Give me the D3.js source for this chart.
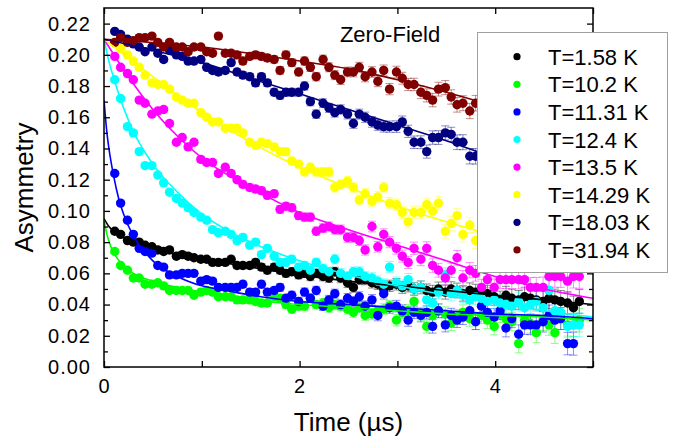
<!DOCTYPE html>
<html><head><meta charset="utf-8">
<script src="https://cdn.jsdelivr.net/npm/d3@7"></script>
<style>
body{margin:0;background:#fff}
text{font-family:"Liberation Sans",Arial,sans-serif;fill:#000}
</style>
</head><body>
<svg id="chart" width="674" height="438"></svg>
<script>
// ---------------- data ----------------
const times=[0.11,0.17,0.24,0.30,0.36,0.42,0.49,0.55,0.61,0.67,
0.74,0.80,0.86,0.92,0.99,1.05,1.11,1.17,1.24,1.30,
1.36,1.42,1.49,1.55,1.61,1.67,1.74,1.80,1.86,1.92,
1.99,2.05,2.11,2.17,2.24,2.30,2.36,2.42,2.49,2.55,
2.61,2.67,2.74,2.80,2.86,2.92,2.99,3.05,3.11,3.17,
3.24,3.30,3.36,3.42,3.49,3.55,3.61,3.67,3.74,3.80,
3.86,3.92,3.99,4.05,4.11,4.17,4.24,4.30,4.36,4.42,
4.49,4.55,4.61,4.67,4.74,4.80,4.86];

const errors=[0.0013,0.0013,0.0013,0.0013,0.0014,0.0014,0.0015,0.0015,0.0015,0.0016,
0.0016,0.0016,0.0017,0.0017,0.0018,0.0018,0.0018,0.0019,0.0019,0.0020,
0.0020,0.0021,0.0021,0.0022,0.0022,0.0023,0.0023,0.0024,0.0024,0.0025,
0.0025,0.0026,0.0027,0.0027,0.0028,0.0029,0.0029,0.0030,0.0031,0.0031,
0.0032,0.0033,0.0034,0.0034,0.0035,0.0036,0.0037,0.0038,0.0039,0.0040,
0.0041,0.0042,0.0043,0.0044,0.0045,0.0046,0.0047,0.0048,0.0049,0.0050,
0.0052,0.0053,0.0054,0.0056,0.0057,0.0058,0.0060,0.0061,0.0063,0.0064,
0.0066,0.0067,0.0069,0.0070,0.0072,0.0074,0.0076];

const a158=[0.087,0.085,0.081,0.080,0.080,0.078,0.077,0.075,0.074,0.075,
0.071,0.072,0.071,0.070,0.069,0.069,0.067,0.067,0.067,0.069,
0.065,0.065,0.065,0.067,0.064,0.062,0.064,0.062,0.060,0.061,
0.059,0.060,0.058,0.060,0.058,0.057,0.061,0.057,0.054,0.051,
0.056,0.056,0.054,0.053,0.050,0.052,0.053,0.051,0.052,0.050,
0.051,0.049,0.048,0.050,0.048,0.050,0.049,0.047,0.049,0.048,
0.046,0.047,0.045,0.043,0.046,0.044,0.043,0.045,0.044,0.043,
0.042,0.044,0.043,0.042,0.041,0.038,0.042];

const a102=[0.074,0.065,0.062,0.057,0.057,0.053,0.053,0.054,0.052,0.049,
0.049,0.049,0.049,0.046,0.048,0.049,0.048,0.045,0.045,0.045,
0.043,0.043,0.043,0.042,0.041,0.041,0.045,0.044,0.040,0.037,
0.039,0.039,0.044,0.040,0.041,0.038,0.040,0.039,0.037,0.035,
0.038,0.033,0.034,0.036,0.037,0.039,0.030,0.035,0.036,0.042,
0.034,0.026,0.033,0.036,0.034,0.028,0.032,0.035,0.031,0.029,
0.033,0.030,0.026,0.034,0.031,0.029,0.015,0.030,0.028,0.022,
0.030,0.027,0.022,0.031,0.027,0.027,0.030];

const a1131=[0.124,0.105,0.094,0.085,0.076,0.074,0.073,0.065,0.064,0.059,
0.059,0.060,0.060,0.060,0.055,0.056,0.055,0.051,0.051,0.051,
0.051,0.053,0.048,0.048,0.053,0.048,0.049,0.051,0.044,0.046,
0.042,0.048,0.044,0.049,0.039,0.043,0.047,0.040,0.044,0.042,
0.045,0.039,0.043,0.033,0.047,0.038,0.039,0.036,0.030,0.035,
0.033,0.035,0.026,0.036,0.027,0.033,0.030,0.032,0.036,0.029,
0.039,0.035,0.032,0.036,0.025,0.031,0.021,0.027,0.027,0.027,
0.029,0.033,0.030,0.031,0.015,0.015,null];

const a124=[0.184,0.172,0.154,0.150,0.138,0.129,0.129,0.123,0.118,0.112,
0.108,0.105,0.102,0.099,0.096,0.094,0.088,0.086,0.087,0.085,
0.081,0.083,0.078,0.080,0.072,0.076,0.071,0.067,0.067,0.069,
0.064,0.065,0.062,0.067,0.063,0.061,0.069,0.060,0.058,0.061,
0.061,0.058,0.057,0.055,0.053,0.064,0.054,0.052,0.056,0.050,
0.051,0.043,0.041,0.048,0.059,0.047,0.049,0.046,0.043,0.045,
0.044,0.042,0.043,0.041,0.040,0.039,0.042,0.038,0.040,0.042,
0.038,0.049,0.036,0.035,0.026,0.027,0.027];

const a135=[0.199,0.192,0.188,0.184,0.171,0.169,0.162,0.164,0.165,0.156,
0.144,0.147,0.141,0.144,0.133,0.131,0.131,0.124,0.128,0.124,
0.120,0.117,0.115,0.114,0.113,0.110,0.111,0.101,0.103,0.102,
0.097,0.096,0.096,0.087,0.089,0.090,0.088,0.088,0.083,0.083,
0.081,0.075,0.090,0.077,0.085,0.080,0.076,0.071,0.067,0.076,
0.069,0.076,0.065,0.062,0.057,0.062,0.070,0.057,0.062,0.060,
0.051,0.056,0.051,0.056,0.056,0.056,0.056,0.056,0.051,0.051,
0.051,0.058,0.058,0.058,0.055,0.058,0.058];

const a1429=[0.208,0.204,0.200,0.196,0.192,0.187,0.182,0.181,0.181,0.178,
0.173,0.171,0.169,0.169,0.163,0.160,0.157,0.157,0.153,0.153,
0.153,0.150,0.144,0.142,0.144,0.143,0.141,0.138,0.138,0.132,
0.130,0.125,0.128,0.125,0.125,0.125,0.115,0.117,0.119,0.115,
0.107,0.111,0.106,0.109,0.115,0.105,0.104,0.099,0.093,0.099,
0.099,0.104,0.100,0.105,0.087,0.092,0.097,0.085,0.091,0.081,
0.083,0.080,0.084,0.079,0.081,0.077,0.080,0.076,0.078,0.074,
0.077,0.073,0.075,0.072,0.074,0.071,0.072];

const a1803=[0.215,0.213,0.210,0.207,0.205,0.202,0.205,0.201,0.197,0.203,
0.200,0.199,0.196,0.196,0.197,0.192,0.190,0.189,0.190,0.195,
0.189,0.187,0.186,0.182,0.186,0.182,0.176,0.174,0.176,0.176,
0.176,0.180,0.170,0.162,0.169,0.166,0.163,0.165,0.162,0.156,
0.162,0.160,0.157,0.155,0.154,0.154,0.154,0.157,0.151,0.144,
0.144,0.138,0.147,0.147,0.150,0.149,0.144,0.144,0.135,0.135,
0.133,0.130,0.128,0.131,0.126,0.127,0.124,0.122,0.124,0.121,
0.119,0.121,0.117,0.118,0.115,0.116,0.113];

const a3194=[0.208,0.211,0.208,0.209,0.211,0.211,0.212,0.208,0.205,0.208,
0.205,0.205,0.202,0.205,0.205,0.202,0.201,0.212,0.201,0.201,
0.200,0.196,0.199,0.200,0.199,0.198,0.197,0.190,0.200,0.195,
0.189,0.196,0.192,0.186,0.197,0.192,0.187,0.184,0.189,0.189,
0.192,0.186,0.189,0.183,0.190,0.178,0.189,0.185,0.181,0.181,
0.176,0.174,0.171,0.178,0.179,0.173,0.168,0.169,0.164,0.169,
0.166,0.164,0.165,0.161,0.162,0.160,0.158,0.159,0.156,0.157,
0.154,0.155,0.152,0.153,0.150,0.151,0.149];

// fitted curves: [time, asymmetry]
const fit158=[[0,0.095],[0.05,0.090],[0.1,0.087],[0.2,0.083],[0.35,0.079],[0.5,0.076],[0.75,0.072],[1,0.069],[1.5,0.064],[2,0.059],[2.5,0.055],[3,0.052],[3.5,0.049],[4,0.046],[4.5,0.043],[5,0.040]];
const fit102=[[0,0.094],[0.03,0.085],[0.07,0.077],[0.12,0.071],[0.2,0.065],[0.3,0.060],[0.5,0.055],[0.75,0.051],[1,0.048],[1.5,0.043],[2,0.040],[2.5,0.038],[3,0.036],[3.5,0.034],[4,0.033],[4.5,0.032],[5,0.030]];
const fit1131=[[0,0.171],[0.03,0.150],[0.06,0.136],[0.1,0.122],[0.15,0.108],[0.2,0.098],[0.3,0.084],[0.4,0.075],[0.5,0.068],[0.75,0.058],[1,0.052],[1.25,0.049],[1.5,0.046],[2,0.042],[2.5,0.040],[3,0.038],[3.5,0.036],[4,0.034],[4.5,0.033],[5,0.031]];
const fit124=[[0,0.21],[0.05,0.196],[0.1,0.185],[0.2,0.166],[0.3,0.151],[0.5,0.130],[0.75,0.112],[1,0.098],[1.25,0.088],[1.5,0.080],[2,0.068],[2.5,0.059],[3,0.052],[3.5,0.046],[4,0.041],[4.5,0.036],[5,0.032]];
const fit135=[[0,0.21],[0.25,0.186],[0.5,0.165],[0.75,0.148],[1,0.134],[1.5,0.115],[2,0.099],[2.5,0.088],[3,0.078],[3.5,0.068],[4,0.058],[4.5,0.050],[5,0.044]];
const fit1429=[[0,0.21],[0.5,0.186],[1,0.163],[1.5,0.144],[2,0.128],[2.5,0.115],[3,0.103],[3.5,0.093],[4,0.084],[4.5,0.076],[5,0.069]];
const fit1803=[[0,0.21],[0.5,0.203],[1,0.195],[1.5,0.185],[2,0.175],[2.5,0.165],[3,0.155],[3.5,0.145],[4,0.134],[4.5,0.124],[5,0.114]];
const fit3194=[[0,0.21],[1,0.205],[2,0.196],[2.5,0.191],[3,0.184],[3.5,0.176],[4,0.167],[4.5,0.158],[5,0.149]];

const labels=["T=1.58 K","T=10.2 K","T=11.31 K","T=12.4 K","T=13.5 K","T=14.29 K","T=18.03 K","T=31.94 K"];
const colors=["#000000","#00ff00","#0000ff","#00ffff","#ff00ff","#ffff00","#000080","#800000"];
const seriesValues=[a158,a102,a1131,a124,a135,a1429,a1803,a3194];
const fits=[fit158,fit102,fit1131,fit124,fit135,fit1429,fit1803,fit3194];

const xTickValues=[0,1,2,3,4,5];
const xTickLabels=["0","","2","","4",""];
const yMajorTicks=[0,0.02,0.04,0.06,0.08,0.10,0.12,0.14,0.16,0.18,0.20,0.22];
const yMinorTicks=[0.01,0.03,0.05,0.07,0.09,0.11,0.13,0.15,0.17,0.19,0.21];

// ---------------- layout ----------------
const svg=d3.select("#chart");
const L=104,R=593,T=8,B=367;
const x=d3.scaleLinear().domain([0,5]).range([L,R]);
const y=d3.scaleLinear().domain([0,0.23]).range([B,T]);

svg.append("clipPath").attr("id","clip").append("rect")
  .attr("x",L).attr("y",T).attr("width",R-L).attr("height",B-T);

const plot=svg.append("g").attr("clip-path","url(#clip)");

const series=labels.map((lab,i)=>({
  label:lab,color:colors[i],fit:fits[i],
  pts:times.map((t,j)=>({t:t,v:seriesValues[i][j],e:errors[j]})).filter(d=>d.v!=null)
}));

// error bars
series.forEach(s=>{
  const g=plot.append("g").attr("stroke",s.color).attr("stroke-opacity",0.45).attr("stroke-width",1).attr("fill","none");
  s.pts.forEach(d=>{
    const cx=x(d.t),y1=y(d.v+d.e),y2=y(d.v-d.e);
    g.append("line").attr("x1",cx).attr("x2",cx).attr("y1",y1).attr("y2",y2);
    g.append("line").attr("x1",cx-4).attr("x2",cx+4).attr("y1",y1).attr("y2",y1);
    g.append("line").attr("x1",cx-4).attr("x2",cx+4).attr("y1",y2).attr("y2",y2);
  });
});
// points
series.forEach(s=>{
  plot.append("g").selectAll("circle").data(s.pts).join("circle")
    .attr("cx",d=>x(d.t)).attr("cy",d=>y(d.v)).attr("r",4.7).attr("fill",s.color);
});
// fit lines
const line=d3.line().x(d=>x(d[0])).y(d=>y(d[1])).curve(d3.curveMonotoneX);
series.forEach(s=>{
  plot.append("path").attr("d",line(s.fit)).attr("fill","none").attr("stroke",s.color).attr("stroke-width",1.6);
});

// ---------------- axes ----------------
const ax=svg.append("g");
ax.append("g").attr("transform",`translate(0,${B})`)
  .call(d3.axisBottom(x).tickValues(xTickValues).tickSize(-6).tickPadding(12).tickFormat((d,i)=>xTickLabels[i]));
ax.append("g").attr("transform",`translate(0,${T})`)
  .call(d3.axisTop(x).tickValues(xTickValues).tickSize(-6).tickFormat(""));
ax.append("g").attr("transform",`translate(${L},0)`)
  .call(d3.axisLeft(y).tickValues(yMajorTicks).tickSize(-6).tickPadding(13).tickFormat(d3.format(".2f")));
ax.append("g").attr("transform",`translate(${L},0)`)
  .call(d3.axisLeft(y).tickValues(yMinorTicks).tickSize(-4).tickFormat(""));
ax.append("g").attr("transform",`translate(${R},0)`)
  .call(d3.axisRight(y).tickValues(yMajorTicks).tickSize(-6).tickFormat(""));
ax.append("g").attr("transform",`translate(${R},0)`)
  .call(d3.axisRight(y).tickValues(yMinorTicks).tickSize(-4).tickFormat(""));
ax.selectAll(".domain").remove();
ax.selectAll(".tick line").attr("stroke","#000").attr("stroke-width",1.3);
ax.selectAll(".tick text").attr("font-size",20).attr("font-family","'Liberation Sans',Arial,sans-serif").attr("fill","#000").attr("letter-spacing","1px");
svg.append("rect").attr("x",L).attr("y",T).attr("width",R-L).attr("height",B-T)
  .attr("fill","none").attr("stroke","#000").attr("stroke-width",1.5);

// titles
svg.append("text").attr("x",(L+R)/2).attr("y",431).attr("text-anchor","middle").attr("font-size",26).text("Time (µs)");
svg.append("text").attr("transform",`translate(33,${(T+B)/2}) rotate(-90)`).attr("text-anchor","middle").attr("font-size",26).text("Asymmetry");
svg.append("text").attr("x",390).attr("y",42).attr("text-anchor","middle").attr("font-size",22).text("Zero-Field");

// legend
const lg=svg.append("g");
lg.append("rect").attr("x",477.5).attr("y",32.5).attr("width",190).attr("height",240)
  .attr("fill","#fff").attr("stroke","#a0a0a0").attr("stroke-width",1);
series.forEach((s,i)=>{
  const cy=56.7+i*27.6;
  lg.append("circle").attr("cx",517).attr("cy",cy).attr("r",3.6).attr("fill",s.color);
  lg.append("text").attr("x",548).attr("y",cy+8).attr("font-size",22).text(s.label);
});
</script>
</body></html>
